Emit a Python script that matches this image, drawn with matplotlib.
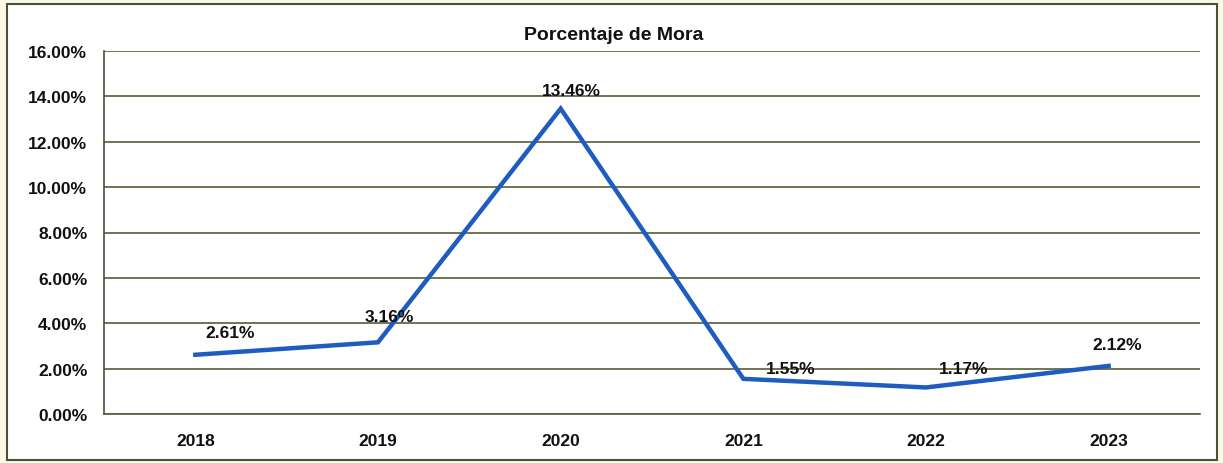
import matplotlib
matplotlib.use("Agg")
import matplotlib.pyplot as plt
from matplotlib.patches import Rectangle

years = ["2018", "2019", "2020", "2021", "2022", "2023"]
mora = [2.61, 3.16, 13.46, 1.55, 1.17, 2.12]
label_texts = ["2.61%", "3.16%", "13.46%", "1.55%", "1.17%", "2.12%"]
yticks = [0, 2, 4, 6, 8, 10, 12, 14, 16]

plt.rcParams['font.family'] = ['Liberation Sans', 'DejaVu Sans']

W, H = 1223, 464
fig = plt.figure(figsize=(W/100, H/100), dpi=100)
fig.patch.set_facecolor('#fbf8e3')
fig.patches.append(Rectangle((7/W, 3/H), (1217-7)/W, (461-5)/H, transform=fig.transFigure,
                             facecolor='white', edgecolor='#4a5040', linewidth=1.5, zorder=-10))

ax = fig.add_axes([104/W, 1-415/H, (1200-104)/W, (415-52)/H], zorder=2)
ax.set_facecolor('white')
x = list(range(len(years)))
ax.plot(x, mora, color='#1f5cc0', linewidth=3.2, solid_joinstyle='miter', zorder=3)
ax.set_xlim(-0.5, len(years)-0.5)
ax.set_ylim(0, 16)
ax.set_yticks(yticks)
ax.set_yticklabels([f"{v:.2f}%" for v in yticks])
ax.set_xticks(x)
ax.set_xticklabels(years)
for lab in ax.get_yticklabels() + ax.get_xticklabels():
    lab.set_fontweight('bold')
    lab.set_fontsize(12.5)
ax.tick_params(axis='both', length=0, colors='#111111')
ax.tick_params(axis='y', pad=12)
ax.tick_params(axis='x', pad=14)
ax.grid(axis='y', color='#5a5a3a', linewidth=1.2, zorder=1)
for s in ['top', 'right']:
    ax.spines[s].set_visible(False)
ax.spines['left'].set_color('#4a5040')
ax.spines['left'].set_linewidth(1.2)
ax.spines['bottom'].set_color('#5a5a3a')
ax.spines['bottom'].set_linewidth(1.2)

offsets = [(25, 11), (8, 13), (8, 8), (34, 2), (27, 8), (6, 10)]
for xi, v, t, (dx, dy) in zip(x, mora, label_texts, offsets):
    ax.annotate(t, (xi, v), xytext=(dx, dy), textcoords='offset points',
                ha='center', va='bottom', fontsize=12.5, fontweight='bold',
                color='#111111', zorder=4)

fig.text(614/W, 1-35/H, "Porcentaje de Mora", ha='center', va='center',
         fontsize=14, fontweight='bold', color='#111111')

fig.savefig("out.png", dpi=100, facecolor=fig.get_facecolor())
